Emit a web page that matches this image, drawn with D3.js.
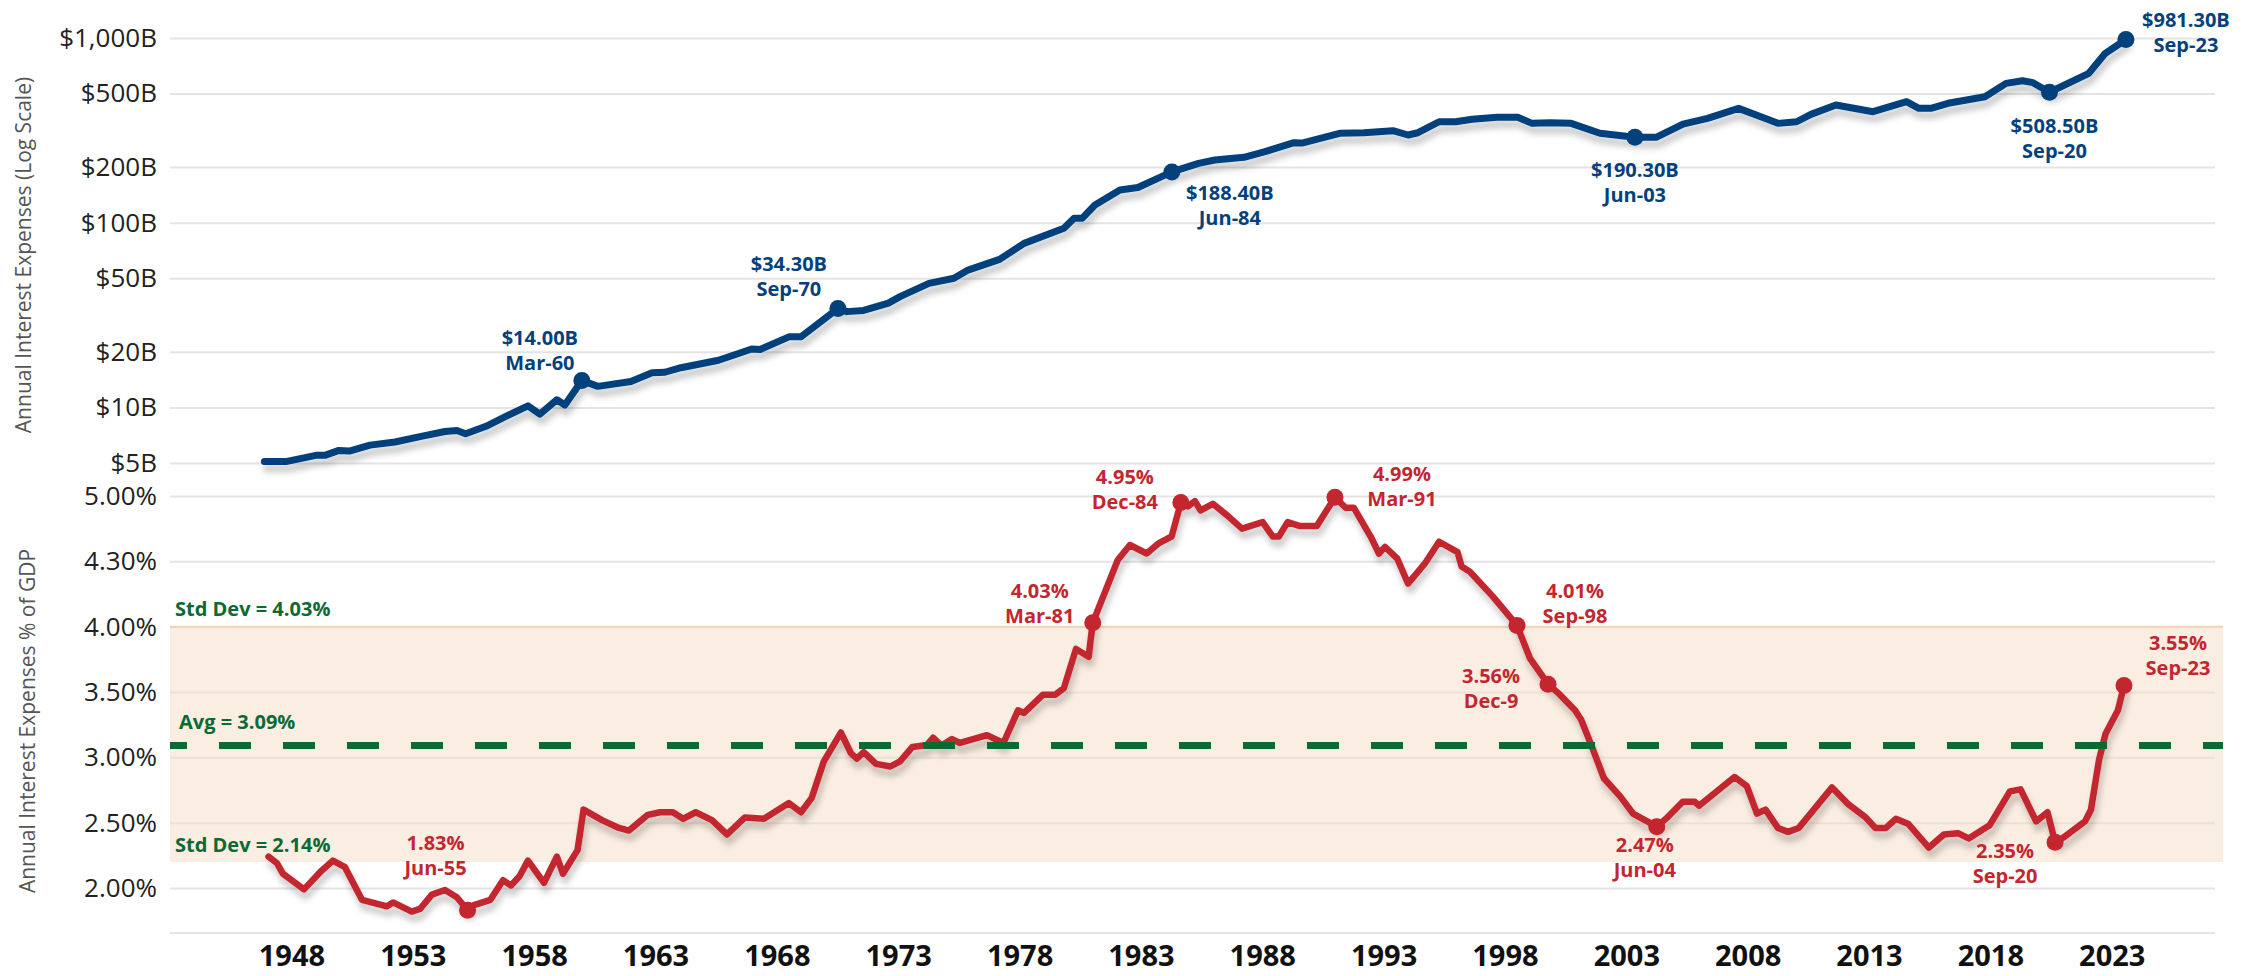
<!DOCTYPE html>
<html>
<head>
<meta charset="utf-8">
<script src="https://cdn.jsdelivr.net/npm/d3@7"></script>
<style>
  body { margin: 0; background: #fff; }
  svg { display: block; font-family: "Open Sans", sans-serif; }
</style>
</head>
<body>
<div id="chart"></div>
<script>
// Annual interest expense ($B, log scale) - dates as decimal years
var costYears = [1947.03, 1947.96, 1949.15, 1949.52, 1950.10, 1950.53, 1951.38, 1952.41, 1953.44, 1954.47,
  1954.96, 1955.32, 1956.16, 1957.02, 1957.89, 1958.38, 1959.08, 1959.41, 1960.11, 1960.77,
  1962.13, 1963.00, 1963.53, 1964.19, 1965.74, 1967.11, 1967.45, 1968.64, 1969.14, 1970.66,
  1971.03, 1971.72, 1972.74, 1973.22, 1974.41, 1975.44, 1976.02, 1977.32, 1978.33, 1979.97,
  1980.39, 1980.72, 1981.25, 1982.28, 1983.02, 1984.13, 1984.42, 1985.52, 1986.19, 1987.39,
  1988.26, 1989.45, 1989.78, 1991.33, 1992.34, 1993.53, 1994.15, 1994.56, 1995.43, 1996.11,
  1996.79, 1997.82, 1998.67, 1999.26, 2000.00, 2000.87, 2002.06, 2003.50, 2004.37, 2005.48,
  2006.49, 2007.77, 2008.88, 2009.39, 2010.16, 2010.75, 2011.78, 2013.31, 2014.69, 2015.20,
  2015.69, 2016.40, 2017.92, 2018.79, 2019.47, 2019.90, 2020.58, 2022.20, 2022.88, 2023.73];
var costValues = [5.1, 5.1, 5.5, 5.5, 5.85, 5.8, 6.25, 6.5, 6.95, 7.4,
  7.5, 7.2, 7.9, 9.0, 10.2, 9.2, 11.0, 10.3, 14.0, 13.0,
  13.8, 15.4, 15.5, 16.4, 18.0, 20.7, 20.6, 24.1, 24.1, 34.3,
  33.0, 33.5, 36.7, 39.8, 46.9, 50.0, 55.4, 63.3, 77.3, 93.2,
  105.6, 105.6, 124.7, 150.3, 155, 181, 188.4, 209.6, 218.5, 225.9,
  242.3, 271.3, 270, 304.8, 307, 314.8, 298.4, 307, 352, 352,
  363, 372, 372, 345, 348, 345, 305, 290, 290, 342,
  367, 416, 367, 345, 352, 386, 434, 399, 452, 416,
  416, 443, 481, 568, 587, 573, 508.5, 644, 826, 981.3];

// Annual interest expense as % of GDP
var gdpYears = [1947.20, 1947.55, 1947.79, 1948.66, 1949.34, 1949.85, 1950.35, 1951.05, 1952.08, 1952.33,
  1953.10, 1953.44, 1953.93, 1954.47, 1954.96, 1955.40, 1955.66, 1956.34, 1956.86, 1957.19,
  1957.54, 1957.89, 1958.55, 1959.08, 1959.33, 1959.93, 1960.18, 1960.94, 1961.64, 1962.05,
  1962.83, 1963.33, 1963.86, 1964.28, 1964.80, 1965.47, 1966.09, 1966.83, 1967.61, 1968.64,
  1969.14, 1969.58, 1970.08, 1970.78, 1971.20, 1971.44, 1971.72, 1972.23, 1972.82, 1973.22,
  1973.73, 1974.33, 1974.58, 1974.93, 1975.36, 1975.69, 1976.80, 1977.48, 1978.08, 1978.33,
  1979.11, 1979.62, 1979.97, 1980.47, 1980.99, 1981.16, 1982.19, 1982.69, 1983.38, 1983.89,
  1984.41, 1984.79, 1985.08, 1985.37, 1985.60, 1986.11, 1986.71, 1987.31, 1988.16, 1988.58,
  1988.83, 1989.19, 1989.70, 1990.39, 1991.14, 1991.58, 1991.92, 1992.61, 1992.95, 1993.20,
  1993.71, 1994.15, 1994.83, 1995.43, 1996.19, 1996.36, 1996.70, 1997.65, 1998.64, 1999.17,
  1999.92, 2000.41, 2001.03, 2001.28, 2001.71, 2002.22, 2002.90, 2003.42, 2004.40, 2004.86,
  2005.47, 2005.97, 2006.14, 2007.60, 2008.11, 2008.53, 2008.88, 2009.39, 2009.81, 2010.25,
  2011.62, 2012.30, 2012.98, 2013.41, 2013.84, 2014.25, 2014.77, 2015.61, 2016.23, 2016.81,
  2017.25, 2018.11, 2018.95, 2019.39, 2020.03, 2020.50, 2020.81, 2021.18, 2022.04, 2022.29,
  2022.62, 2022.89, 2023.40, 2023.65];
var gdpValues = [2.24, 2.19, 2.11, 1.99, 2.125, 2.21, 2.16, 1.91, 1.86, 1.89,
  1.82, 1.84, 1.95, 1.985, 1.93, 1.83, 1.87, 1.91, 2.06, 2.02,
  2.09, 2.21, 2.04, 2.24, 2.11, 2.29, 2.60, 2.52, 2.46, 2.44,
  2.56, 2.58, 2.58, 2.53, 2.58, 2.52, 2.41, 2.54, 2.53, 2.65,
  2.58, 2.69, 2.97, 3.19, 3.03, 2.99, 3.04, 2.95, 2.93, 2.97,
  3.08, 3.095, 3.15, 3.09, 3.14, 3.11, 3.17, 3.11, 3.36, 3.34,
  3.48, 3.48, 3.53, 3.83, 3.77, 4.03, 4.51, 4.625, 4.56, 4.64,
  4.69, 4.95, 4.92, 4.96, 4.89, 4.94, 4.85, 4.75, 4.80, 4.69,
  4.69, 4.80, 4.77, 4.77, 4.99, 4.91, 4.91, 4.69, 4.56, 4.61,
  4.52, 4.33, 4.48, 4.65, 4.57, 4.46, 4.42, 4.23, 4.01, 3.76,
  3.56, 3.48, 3.36, 3.29, 3.09, 2.84, 2.70, 2.57, 2.47, 2.545,
  2.66, 2.66, 2.63, 2.85, 2.78, 2.57, 2.60, 2.46, 2.43, 2.46,
  2.77, 2.64, 2.545, 2.46, 2.46, 2.53, 2.49, 2.31, 2.41, 2.42,
  2.38, 2.48, 2.74, 2.755, 2.51, 2.58, 2.35, 2.39, 2.51, 2.60,
  2.98, 3.18, 3.36, 3.55];

// Tick values and labels
var yearTicks = [1948, 1953, 1958, 1963, 1968, 1973, 1978, 1983, 1988, 1993, 1998, 2003, 2008, 2013, 2018, 2023];
var costTicks = [5, 10, 20, 50, 100, 200, 500, 1000];
var costTickLabels = ["$5B", "$10B", "$20B", "$50B", "$100B", "$200B", "$500B", "$1,000B"];
var gdpTicks = [2, 2.5, 3, 3.5, 4, 4.5, 5];
var gdpTickLabels = ["2.00%", "2.50%", "3.00%", "3.50%", "4.00%", "4.30%", "5.00%"];

// Average line and std dev band
var avgValue = 3.09;
var bandRange = [2.2, 4.0];
var refTexts = ["Std Dev = 4.03%", "Avg = 3.09%", "Std Dev = 2.14%"];

// Callouts
var costNoteYears = [1960.11, 1970.66, 1984.42, 2003.50, 2020.58, 2023.73];
var costNoteTexts = [["$14.00B", "Mar-60"], ["$34.30B", "Sep-70"], ["$188.40B", "Jun-84"],
  ["$190.30B", "Jun-03"], ["$508.50B", "Sep-20"], ["$981.30B", "Sep-23"]];
var gdpNoteYears = [1955.40, 1981.16, 1984.79, 1991.14, 1998.64, 1999.92, 2004.40, 2020.81, 2023.65];
var gdpNoteTexts = [["1.83%", "Jun-55"], ["4.03%", "Mar-81"], ["4.95%", "Dec-84"], ["4.99%", "Mar-91"],
  ["4.01%", "Sep-98"], ["3.56%", "Dec-9"], ["2.47%", "Jun-04"], ["2.35%", "Sep-20"], ["3.55%", "Sep-23"]];

// label placement relative to the dot (layout only)
var costNoteOffsets = [[-42, -35], [-49, -38], [58, 28], [0, 40], [5, 41], [60, -13]];
var gdpNoteOffsets = [[-32, -60], [-53, -25], [-56, -19], [67, -16], [58, -27], [-57, -1], [-12, 25], [-50, 16], [54, -35]];

var svgWidth = 2266;
var svgHeight = 976;
var blue = "#03417c";
var red = "#c3262f";
var green = "#0b6a33";

var svg = d3.select("#chart")
  .append("svg")
  .attr("width", svgWidth)
  .attr("height", svgHeight);

// drop shadow under the lines
var filter = svg.append("defs").append("filter")
  .attr("id", "shadow")
  .attr("x", "-5%").attr("y", "-20%")
  .attr("width", "110%").attr("height", "150%");
filter.append("feDropShadow")
  .attr("dx", 2).attr("dy", 7)
  .attr("stdDeviation", 3)
  .attr("flood-color", "#000")
  .attr("flood-opacity", 0.22);

// Scales
var xScale = d3.scaleLinear().domain([1943.14, 2027.4]).range([170, 2215]);
var yCost = d3.scaleLog().domain([5, 1000]).range([463, 38]);
var yGdp = d3.scaleLinear().domain([1.656, 5]).range([933, 496]);

// Gridlines + y tick labels
var topAxis = svg.append("g")
  .attr("transform", "translate(170,0)")
  .call(d3.axisLeft(yCost).tickValues(costTicks).tickSize(-2045)
    .tickFormat(function(d, i) { return costTickLabels[i]; }));

var botAxis = svg.append("g")
  .attr("transform", "translate(170,0)")
  .call(d3.axisLeft(yGdp).tickValues(gdpTicks).tickSize(-2045)
    .tickFormat(function(d, i) { return gdpTickLabels[i]; }));

[topAxis, botAxis].forEach(function(g) {
  g.select(".domain").remove();
  g.selectAll(".tick line").attr("stroke", "#e4e4e4").attr("stroke-width", 2);
  g.selectAll(".tick text")
    .attr("x", -13)
    .attr("font-size", "26px")
    .attr("font-family", "Open Sans")
    .attr("fill", "#222");
});

// bottom axis line + year labels
svg.append("line")
  .attr("x1", 170).attr("x2", 2215)
  .attr("y1", yGdp(1.656)).attr("y2", yGdp(1.656))
  .attr("stroke", "#e4e4e4").attr("stroke-width", 2);

svg.append("g").selectAll("text")
  .data(yearTicks)
  .enter()
  .append("text")
  .attr("x", function(d) { return xScale(d) + 4; })
  .attr("y", 966)
  .attr("text-anchor", "middle")
  .attr("font-size", "29px")
  .attr("font-weight", "bold")
  .attr("fill", "#111")
  .text(function(d) { return d; });

// Std dev band
svg.append("rect")
  .attr("x", 170)
  .attr("y", yGdp(bandRange[1]))
  .attr("width", 2223 - 170)
  .attr("height", yGdp(bandRange[0]) - yGdp(bandRange[1]))
  .attr("fill", "#f6dcc3")
  .attr("opacity", 0.5);
svg.append("line")
  .attr("x1", 170).attr("x2", 2223)
  .attr("y1", yGdp(bandRange[1])).attr("y2", yGdp(bandRange[1]))
  .attr("stroke", "#f4d2b2").attr("stroke-width", 2);

// Lines
var costLine = d3.line()
  .x(function(d, i) { return xScale(costYears[i]); })
  .y(function(d) { return yCost(d); });
var gdpLine = d3.line()
  .x(function(d, i) { return xScale(gdpYears[i]); })
  .y(function(d) { return yGdp(d); });

svg.append("path")
  .datum(gdpValues)
  .attr("d", gdpLine)
  .attr("fill", "none")
  .attr("stroke", red)
  .attr("stroke-width", 6.5)
  .attr("stroke-linejoin", "round")
  .attr("stroke-linecap", "round")
  .attr("filter", "url(#shadow)");

svg.append("path")
  .datum(costValues)
  .attr("d", costLine)
  .attr("fill", "none")
  .attr("stroke", blue)
  .attr("stroke-width", 7)
  .attr("stroke-linejoin", "round")
  .attr("stroke-linecap", "round")
  .attr("filter", "url(#shadow)");

// Avg dashed line
svg.append("line")
  .attr("x1", 170).attr("x2", 2223)
  .attr("y1", yGdp(avgValue)).attr("y2", yGdp(avgValue))
  .attr("stroke", green)
  .attr("stroke-width", 7)
  .attr("stroke-dasharray", "32 32")
  .attr("stroke-dashoffset", 15);

// reference labels
var refY = [yGdp(bandRange[1]) - 11, yGdp(avgValue) - 17, yGdp(bandRange[0]) - 10];
svg.append("g").selectAll("text")
  .data(refTexts)
  .enter()
  .append("text")
  .attr("x", function(d, i) { return i == 1 ? 179 : 175; })
  .attr("y", function(d, i) { return refY[i]; })
  .attr("font-size", "20px")
  .attr("font-weight", "bold")
  .attr("fill", green)
  .text(function(d) { return d; });

// Callout dots + labels
function lookup(years, values, yr) {
  var i = years.findIndex(function(y) { return Math.abs(y - yr) < 0.001; });
  return values[i];
}

function drawNotes(noteYears, texts, offsets, years, values, yScale, color) {
  var g = svg.append("g");
  noteYears.forEach(function(yr, i) {
    var cx = xScale(yr);
    var cy = yScale(lookup(years, values, yr));
    g.append("circle")
      .attr("cx", cx).attr("cy", cy)
      .attr("r", 8.5)
      .attr("fill", color);
    texts[i].forEach(function(t, j) {
      g.append("text")
        .attr("x", cx + offsets[i][0])
        .attr("y", cy + offsets[i][1] + j * 25)
        .attr("text-anchor", "middle")
        .attr("font-size", "20px")
        .attr("font-weight", "bold")
        .attr("fill", color)
        .text(t);
    });
  });
}

drawNotes(gdpNoteYears, gdpNoteTexts, gdpNoteOffsets, gdpYears, gdpValues, yGdp, red);
drawNotes(costNoteYears, costNoteTexts, costNoteOffsets, costYears, costValues, yCost, blue);

// Axis titles
svg.append("text")
  .attr("transform", "translate(31, 255) rotate(-90)")
  .attr("text-anchor", "middle")
  .attr("font-size", "21px")
  .attr("fill", "#555")
  .text("Annual Interest Expenses (Log Scale)");

svg.append("text")
  .attr("transform", "translate(35, 721) rotate(-90)")
  .attr("text-anchor", "middle")
  .attr("font-size", "21px")
  .attr("fill", "#555")
  .text("Annual Interest Expenses % of GDP");
</script>
</body>
</html>
